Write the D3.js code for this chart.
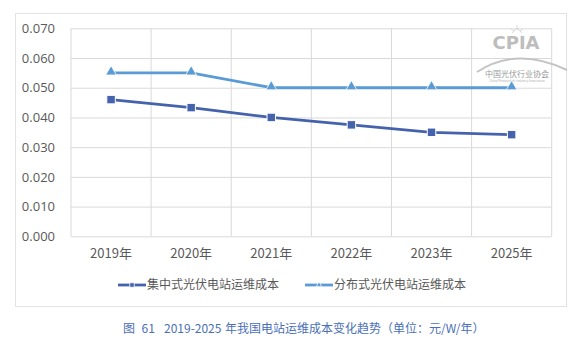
<!DOCTYPE html>
<html>
<head>
<meta charset="utf-8">
<script src="https://cdn.jsdelivr.net/npm/d3@7"></script>
<style>
  html, body { margin: 0; padding: 0; background: #fff; }
  svg { display: block; }
  text { font-family: "Noto Sans CJK SC", "Noto Sans", sans-serif; }
</style>
</head>
<body>
<svg id="chart" width="585" height="349"></svg>
<script>
// O&M cost of PV plants, 2019–2025 (yuan/W/year)
const years = ["2019年", "2020年", "2021年", "2022年", "2023年", "2025年"];
const centralized = [0.046, 0.0433, 0.040, 0.0375, 0.035, 0.0342];
const distributed = [0.055, 0.055, 0.050, 0.050, 0.050, 0.050];
const seriesNames = ["集中式光伏电站运维成本", "分布式光伏电站运维成本"];
const yTicks = [0, 0.01, 0.02, 0.03, 0.04, 0.05, 0.06, 0.07];
const captionParts = ["图", "61", "2019-2025", "年我国电站运维成本变化趋势（单位：元/W/年）"];

const svg = d3.select("#chart");
const plot = { left: 71, right: 551.7, top: 28.3, bottom: 236.3 };
const textColor = "#595959";
const gridColor = "#d9d9d9";
const colors = ["#4563AC", "#5B9BD5"];

// outer frame
svg.append("rect")
  .attr("x", 15.5).attr("y", 13.5)
  .attr("width", 551).attr("height", 293)
  .attr("fill", "none").attr("stroke", "#e3e3e3").attr("stroke-width", 1);

const x = d3.scaleBand().domain(years).range([plot.left, plot.right]).padding(0);
const y = d3.scaleLinear().domain([0, 0.07]).range([plot.bottom, plot.top]);

// horizontal gridlines + y labels
const yAxis = d3.axisLeft(y).tickValues(yTicks).tickFormat(d3.format(".3f"))
  .tickSize(-(plot.right - plot.left)).tickPadding(16);
const gy = svg.append("g").attr("transform", `translate(${plot.left},0)`).call(yAxis);
gy.select(".domain").remove();
gy.selectAll(".tick line").attr("stroke", gridColor).attr("stroke-width", 1);
gy.selectAll(".tick text").attr("fill", textColor).attr("font-size", 13)
  .style("font-family", "'Open Sans', 'Noto Sans', sans-serif");

// vertical gridlines at band boundaries
const bounds = years.map(d => x(d)).concat([x(years[years.length - 1]) + x.bandwidth()]);
svg.append("g").selectAll("line").data(bounds).join("line")
  .attr("x1", d => d).attr("x2", d => d)
  .attr("y1", plot.top).attr("y2", plot.bottom)
  .attr("stroke", gridColor).attr("stroke-width", 1);

// x labels
const xAxis = d3.axisBottom(x).tickSize(0).tickPadding(12);
const gx = svg.append("g").attr("transform", `translate(0,${plot.bottom})`).call(xAxis);
gx.select(".domain").remove();
gx.selectAll(".tick text").attr("fill", textColor).attr("font-size", 13);

// watermark logo
const logo = svg.append("g");
logo.append("path")
  .attr("d", "M477,72 Q517,46 567,70")
  .attr("fill", "none").attr("stroke", "#c4c4c4").attr("stroke-width", 2);
logo.append("text").attr("x", 516).attr("y", 48.5).attr("text-anchor", "middle")
  .attr("font-size", 18).attr("font-weight", "bold").attr("fill", "#bdbdbd")
  .attr("textLength", 47).attr("lengthAdjust", "spacingAndGlyphs")
  .style("font-family", "'DejaVu Sans Condensed', 'Liberation Sans Narrow', sans-serif")
  .text("CPIA");
logo.append("text").attr("x", 517).attr("y", 76.5).attr("text-anchor", "middle")
  .attr("font-size", 8).attr("fill", "#9a9a9a").text("中国光伏行业协会");
logo.append("text").attr("x", 517).attr("y", 81.5).attr("text-anchor", "middle")
  .attr("font-size", 3).attr("fill", "#b0b0b0").text("China Photovoltaic Industry Association");
logo.append("path")
  .attr("d", "M512,33 L517,28 L522,33 M517,25 L517,30 M511,29 L514,31 M523,29 L520,31")
  .attr("fill", "none").attr("stroke", "#d0d0d0").attr("stroke-width", 0.8);

// lines
const cx = d => x(d) + x.bandwidth() / 2;
const line = d3.line().x(d => cx(d.year)).y(d => y(d.v));
const data = [centralized, distributed].map(arr => arr.map((v, i) => ({ year: years[i], v })));

data.forEach((s, i) => {
  svg.append("path").datum(s)
    .attr("d", line).attr("fill", "none")
    .attr("stroke", colors[i]).attr("stroke-width", 2.8)
    .attr("stroke-linejoin", "round");
});

// markers
const sq = d3.symbol().type(d3.symbolSquare).size(72);
const tri = d3.symbol().type(d3.symbolTriangle).size(50);
svg.append("g").selectAll("path").data(data[0]).join("path")
  .attr("d", sq).attr("transform", d => `translate(${cx(d.year)},${y(d.v)})`)
  .attr("fill", colors[0]).attr("stroke", "#fff").attr("stroke-width", 1);
svg.append("g").selectAll("path").data(data[1]).join("path")
  .attr("d", tri).attr("transform", d => `translate(${cx(d.year)},${y(d.v) - 1})`)
  .attr("fill", colors[1]).attr("stroke", "#fff").attr("stroke-width", 0.8);

// legend
const legendY = 285;
const legendX = [118, 305];
seriesNames.forEach((name, i) => {
  const g = svg.append("g").attr("transform", `translate(${legendX[i]},${legendY})`);
  g.append("line").attr("x1", 0).attr("x2", 28).attr("y1", 0).attr("y2", 0)
    .attr("stroke", colors[i]).attr("stroke-width", 2.8);
  g.append("path")
    .attr("d", i === 0 ? d3.symbol().type(d3.symbolSquare).size(20)() : d3.symbol().type(d3.symbolTriangle).size(14)())
    .attr("transform", "translate(14,0)")
    .attr("fill", colors[i]).attr("stroke", "#fff").attr("stroke-width", 0.8);
  g.append("text").attr("x", 29).attr("y", 0).attr("dy", "0.35em")
    .attr("font-size", 12).attr("fill", textColor).text(name);
});

// caption, set as separate runs so the wide gaps between them hold
const capX = [123, 141.5, 164, 225];
svg.append("text").attr("y", 329).attr("dy", "0.35em")
  .attr("font-size", 12).attr("fill", "#4a6fb8")
  .selectAll("tspan").data(captionParts).join("tspan")
  .attr("x", (d, i) => capX[i])
  .text(d => d);
</script>
</body>
</html>
